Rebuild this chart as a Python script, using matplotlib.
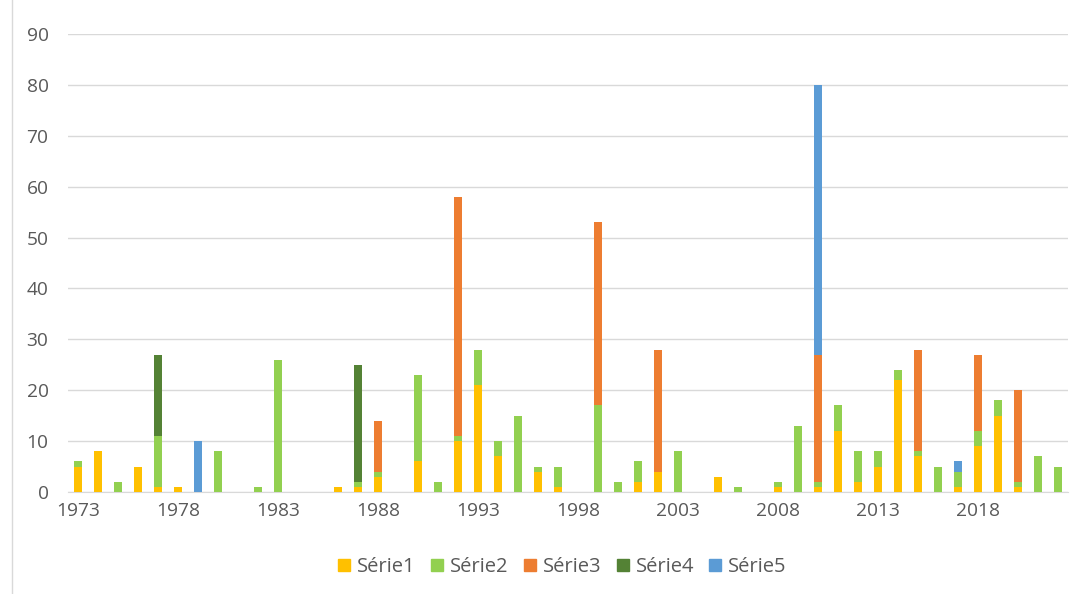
import matplotlib.pyplot as plt
import numpy as np
from matplotlib.lines import Line2D

plt.rcParams['font.family'] = ['Open Sans', 'DejaVu Sans']

years = list(range(1973, 2023))

# values per year, 1973..2022
serie1 = [5, 8, 0, 5, 1, 1, 0, 0, 0, 0, 0, 0, 0, 1, 1, 3, 0, 6, 0, 10,
          21, 7, 0, 4, 1, 0, 0, 0, 2, 4, 0, 0, 3, 0, 0, 1, 0, 1, 12, 2,
          5, 22, 7, 0, 1, 9, 15, 1, 0, 0]
serie2 = [1, 0, 2, 0, 10, 0, 0, 8, 0, 1, 26, 0, 0, 0, 1, 1, 0, 17, 2, 1,
          7, 3, 15, 1, 4, 0, 17, 2, 4, 0, 8, 0, 0, 1, 0, 1, 13, 1, 5, 6,
          3, 2, 1, 5, 3, 3, 3, 1, 7, 5]
serie3 = [0, 0, 0, 0, 0, 0, 0, 0, 0, 0, 0, 0, 0, 0, 0, 10, 0, 0, 0, 47,
          0, 0, 0, 0, 0, 0, 36, 0, 0, 24, 0, 0, 0, 0, 0, 0, 0, 25, 0, 0,
          0, 0, 20, 0, 0, 15, 0, 18, 0, 0]
serie4 = [0, 0, 0, 0, 16, 0, 0, 0, 0, 0, 0, 0, 0, 0, 23, 0, 0, 0, 0, 0,
          0, 0, 0, 0, 0, 0, 0, 0, 0, 0, 0, 0, 0, 0, 0, 0, 0, 0, 0, 0,
          0, 0, 0, 0, 0, 0, 0, 0, 0, 0]
serie5 = [0, 0, 0, 0, 0, 0, 10, 0, 0, 0, 0, 0, 0, 0, 0, 0, 0, 0, 0, 0,
          0, 0, 0, 0, 0, 0, 0, 0, 0, 0, 0, 0, 0, 0, 0, 0, 0, 53, 0, 0,
          0, 0, 0, 0, 2, 0, 0, 0, 0, 0]

series = [serie1, serie2, serie3, serie4, serie5]
names = ['Série1', 'Série2', 'Série3', 'Série4', 'Série5']
colors = ['#FFC000', '#92D050', '#ED7D31', '#548235', '#5B9BD5']

fig = plt.figure(figsize=(10.91, 5.94), dpi=100)
ax = fig.add_axes([68 / 1091, 102 / 594, 1000 / 1091, 458 / 594])

x = np.arange(len(years))
bottom = np.zeros(len(years))
for vals, name, col in zip(series, names, colors):
    ax.bar(x, vals, 0.4, bottom=bottom, color=col, label=name, zorder=3)
    bottom += np.array(vals)

ax.set_xlim(-0.5, len(years) - 0.5)
ax.set_ylim(0, 90)
ax.set_yticks(range(0, 91, 10))
ax.set_xticks(x[::5])
ax.set_xticklabels([str(y) for y in years[::5]])
ax.grid(axis='y', color='#D9D9D9', linewidth=1, zorder=0)
for s in ['top', 'right', 'left']:
    ax.spines[s].set_visible(False)
ax.spines['bottom'].set_color('#D9D9D9')
ax.tick_params(length=0, labelsize=13.8, colors='#595959')
ax.tick_params(axis='y', pad=14)
ax.tick_params(axis='x', pad=7)

handles = [Line2D([], [], marker='s', linestyle='', markersize=8.5,
                  color=c) for c in colors]
fig.legend(handles, names, loc='center', bbox_to_anchor=(562 / 1091, 1 - 567 / 594),
           ncol=5, frameon=False, fontsize=14.5, labelcolor='#595959',
           handlelength=0.7, handletextpad=0.3, columnspacing=0.7)

fig.add_artist(Line2D([12 / 1091, 12 / 1091], [0, 1], color='#D9D9D9', linewidth=1))

fig.savefig('out.png', dpi=100)
